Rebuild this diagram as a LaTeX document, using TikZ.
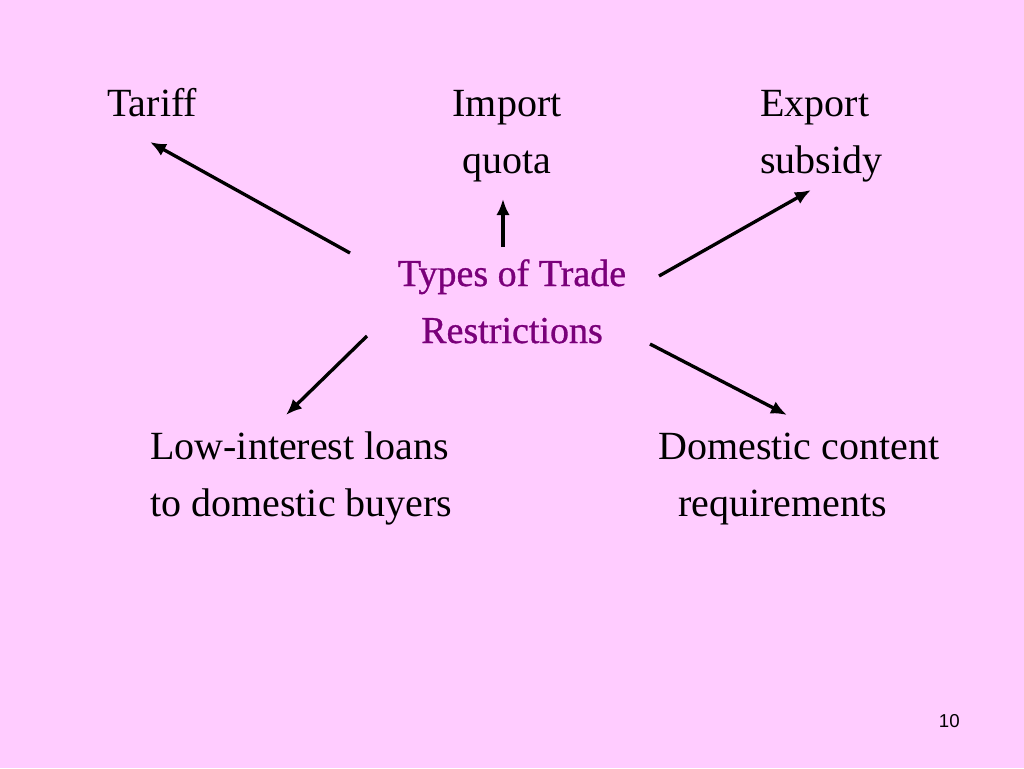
\documentclass[tikz,border=0pt]{standalone}
\usepackage{fontspec}
\setmainfont{Liberation Serif}
\setsansfont{Liberation Sans}
\newfontfamily\titlefont[FakeBold=0.8]{Liberation Serif}
\usetikzlibrary{arrows.meta}
\definecolor{bgpink}{HTML}{FFCCFF}
\definecolor{titlepurple}{HTML}{7A007A}
\tikzset{
  lbl/.style={inner sep=0pt, anchor=base west, align=left, text=black,
    font=\fontsize{30}{42.75}\selectfont},
  ctr/.style={inner sep=0pt, anchor=base, align=center, text=black,
    font=\fontsize{30}{42.75}\selectfont},
  title/.style={inner sep=0pt, anchor=base, align=center, text=titlepurple,
    font=\titlefont\fontsize{28.5}{42.75}\selectfont},
  arr/.style={line width=2.5pt, -{Latex[length=12pt,width=10pt]}}
}
\begin{document}
\begin{tikzpicture}[x=0.75pt,y=-0.75pt]
\fill[bgpink] (0,0) rectangle (1024,768);
\useasboundingbox (0,0) rectangle (1024,768);
\node[title] (types) at (512,343) {Types of Trade\\Restrictions};
\node[lbl] (tariff) at (107,116) {Tariff};
\node[ctr] (import) at (507,173) {Import\\quota};
\node[lbl] (export) at (760,173) {Export\\subsidy};
\node[lbl] (loans) at (150,516) {Low-interest loans\\to domestic buyers};
\node[lbl] (content) at (658,516) {Domestic content\\\hspace*{15pt}requirements};
\node[inner sep=0pt, anchor=base east, font=\sffamily\fontsize{14}{16}\selectfont] (page) at (960,727) {10};
\coordinate (a1s) at (350,253); \coordinate (a1e) at (150,142);
\coordinate (a2s) at (503,247); \coordinate (a2e) at (503,199);
\coordinate (a3s) at (659,276); \coordinate (a3e) at (811,190);
\coordinate (a4s) at (367,336); \coordinate (a4e) at (286,415);
\coordinate (a5s) at (650,344); \coordinate (a5e) at (787,415);
\draw[arr] (a1s) -- (a1e);
\draw[arr] (a2s) -- (a2e);
\draw[arr] (a3s) -- (a3e);
\draw[arr] (a4s) -- (a4e);
\draw[arr] (a5s) -- (a5e);
\end{tikzpicture}
\end{document}
